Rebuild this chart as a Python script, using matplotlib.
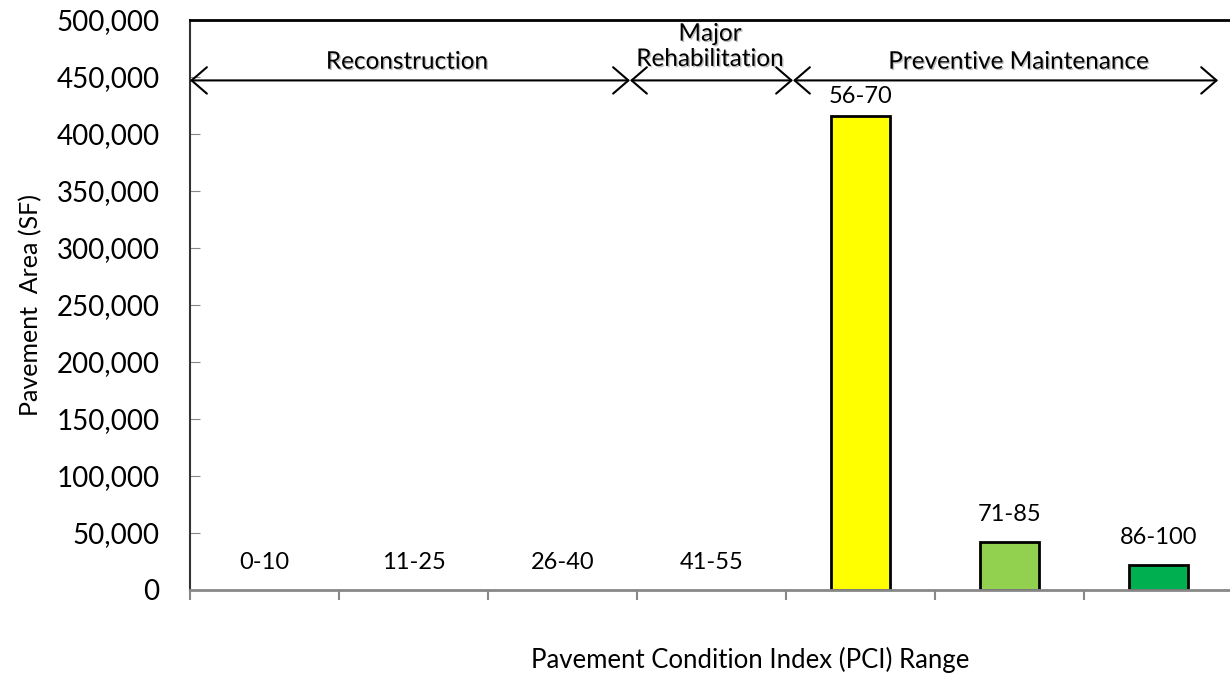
import matplotlib
matplotlib.use("Agg")
import matplotlib.pyplot as plt
import matplotlib.patheffects as pe
from matplotlib.ticker import FuncFormatter, MultipleLocator
import numpy as np

# PCI ranges and pavement area (square feet)
pci_ranges = ["0-10", "11-25", "26-40", "41-55", "56-70", "71-85", "86-100"]
area_sf = [0, 0, 0, 0, 416000, 42500, 22000]
bar_colors = ["#FFFF00", "#FFFF00", "#FFFF00", "#FFFF00", "#FFFF00", "#92D050", "#00B050"]

# treatment bands along the top, and where each band starts/ends (category units)
bands = ["Reconstruction", "Major\nRehabilitation", "Preventive Maintenance"]
band_edges = [-0.5, 2.453, 3.547, 6.40]

plt.rcParams['font.family'] = ['Lato', 'DejaVu Sans']

fig = plt.figure(figsize=(12.3, 6.75), dpi=100)
ax = fig.add_axes([190/1230, 85/675, 1043/1230, 570/675])

x = np.arange(len(pci_ranges))
# empty ranges get no outline, like Excel
edges = ["black" if v > 0 else "none" for v in area_sf]
ax.bar(x, area_sf, width=0.4, color=bar_colors, edgecolor=edges, linewidth=2)

ax.set_xlim(-0.5, 6.5)
ax.set_ylim(0, 500000)

# data labels show the range name above each bar
for i, (lab, v) in enumerate(zip(pci_ranges, area_sf)):
    off = 6 if v > 300000 else 12
    ax.annotate(lab, (i, v), xytext=(0, off), textcoords="offset points",
                ha="center", va="bottom", fontsize=17)

# band arrows
arrow_y = 447000
for k in range(len(bands)):
    ax.annotate("", xy=(band_edges[k + 1], arrow_y), xytext=(band_edges[k], arrow_y),
                arrowprops=dict(arrowstyle="<->,head_length=1.1,head_width=0.95",
                                mutation_scale=10, lw=1.5, color="black",
                                shrinkA=0, shrinkB=0),
                annotation_clip=False)

shadow = [pe.withSimplePatchShadow(offset=(1, -1), shadow_rgbFace="gray", alpha=0.5)]
ax.text(0.956, 463000, bands[0], ha="center", va="center", fontsize=17.5, path_effects=shadow)
ax.text(2.99, 476500, bands[1], ha="center", va="center", fontsize=17.5,
        linespacing=1.25, path_effects=shadow)
ax.text(5.06, 463000, bands[2], ha="center", va="center", fontsize=17.5, path_effects=shadow)

# axes styling (Excel-like)
ax.yaxis.set_major_locator(MultipleLocator(50000))
ax.yaxis.set_major_formatter(FuncFormatter(lambda v, p: f"{int(v):,}"))
ax.tick_params(axis="y", direction="in", length=7, color="#888888", labelsize=20, pad=22)
ax.set_xticks(np.arange(-0.5, 7.0, 1.0))
ax.set_xticklabels([])
ax.tick_params(axis="x", direction="out", length=7, color="#888888", width=1.5)
ax.spines["right"].set_visible(False)
ax.spines["top"].set_linewidth(2)
ax.spines["left"].set_color("#333333")
ax.spines["left"].set_linewidth(1.5)
ax.spines["bottom"].set_color("#888888")
ax.spines["bottom"].set_linewidth(2)

ax.set_ylabel("Pavement  Area (SF)", fontsize=18, labelpad=10)
ax.set_xlabel("Pavement Condition Index (PCI) Range", fontsize=18.5)
ax.xaxis.set_label_coords(0.537, -0.123)
ax.xaxis.label.set_va("center")

fig.savefig("out.png", dpi=100)
